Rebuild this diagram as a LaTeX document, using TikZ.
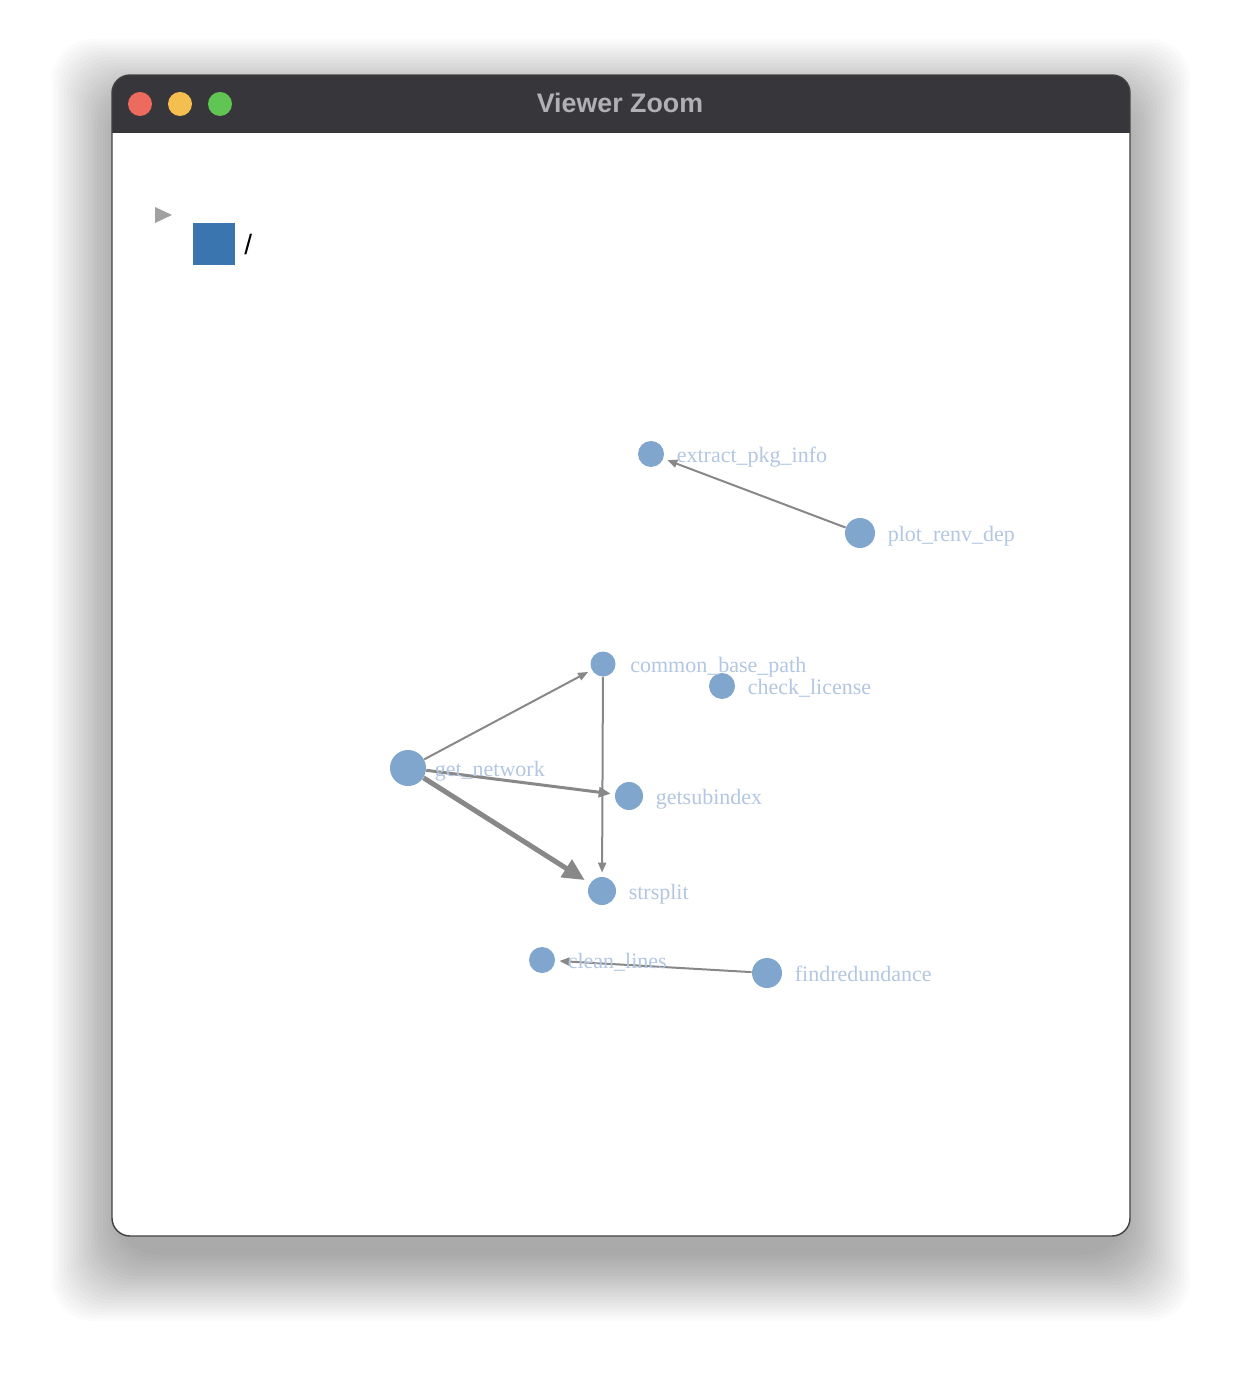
\documentclass[tikz,border=0pt]{standalone}
\usepackage{fontspec}
\setmainfont{Liberation Serif}
\newfontfamily\winfont{Liberation Sans}
\usepackage{tikz}
\usetikzlibrary{positioning}
\usetikzlibrary{arrows.meta}

\definecolor{nodeblue}{HTML}{80A6CD}
\definecolor{lblblue}{HTML}{B3C7E2}
\definecolor{edgegray}{HTML}{888888}
\definecolor{barcol}{HTML}{37363B}
\definecolor{bartext}{HTML}{B1B0B5}
\definecolor{legblue}{HTML}{3A75B0}
\definecolor{closered}{HTML}{ED6A5E}
\definecolor{minyellow}{HTML}{F5BF4F}
\definecolor{maxgreen}{HTML}{61C554}

\begin{document}
\begin{tikzpicture}[
    x=0.5pt, y=-0.5pt,
    node distance=5pt,
    fn/.style={circle,fill=nodeblue,inner sep=0pt,minimum size=#1},
    fn/.default=13pt,
    lbl/.style={text=lblblue,inner sep=0pt,font=\fontsize{11}{13}\selectfont,
        text height=0.7em,text depth=0.25em,yshift=-2pt},
    dep/.style={draw=edgegray,line width=1pt,shorten >=2pt,
        -{Triangle[length=5pt,width=4pt]}},
    light/.style={circle,inner sep=0pt,minimum size=12pt}
    ]

    % page and window shadow
    \useasboundingbox (0,0) rectangle (1242,1384);
    \fill[white] (0,0) rectangle (1242,1384);
    \foreach \s in {0,3,...,66}
        \fill[black,opacity=0.014,rounded corners=20pt]
            (118-\s,105-\s) rectangle (1124+\s,1255+\s);

    % window
    \fill[white,rounded corners=9pt] (112,75) rectangle (1130,1236);
    \begin{scope}
        \clip[rounded corners=9pt] (112,75) rectangle (1130,1236);
        \fill[barcol] (112,75) rectangle (1130,132);
    \end{scope}
    \draw[black!80,line width=0.4pt] (112,132) -- (1130,132);
    \draw[black!75,line width=0.7pt,rounded corners=9pt] (112,75) rectangle (1130,1236);

    \node[light,fill=closered] (close) at (140,104) {};
    \node[light,fill=minyellow] (minimize) at (180,104) {};
    \node[light,fill=maxgreen] (maximize) at (220,104) {};
    \node[text=bartext,font=\winfont\bfseries\fontsize{13.4}{16}\selectfont] (title) at (620,103) {Viewer Zoom};

    % legend
    \fill[black!37] (155,207) -- (155,223) -- (172,215) -- cycle;
    \node[fill=legblue,inner sep=0pt,minimum size=21pt] (swatch) at (214,244) {};
    \node[font=\winfont\fontsize{14}{16}\selectfont,right=1pt of swatch] (grp) {/};

    % function nodes
    \node[fn] (epi) at (651,454) {};
    \node[fn=15pt] (prd) at (860,533) {};
    \node[fn=12.5pt] (cbp) at (603,664) {};
    \node[fn] (chk) at (722,686) {};
    \node[fn=18pt] (gnw) at (408,768) {};
    \node[fn=14pt] (gsi) at (629,796) {};
    \node[fn=14pt] (sts) at (602,891) {};
    \node[fn] (cln) at (542,960) {};
    \node[fn=15pt] (frd) at (767,973) {};

    % calls
    \draw[dep] (prd) -- (epi);
    \draw[dep] (gnw) -- (cbp);
    \draw[dep,line width=1.5pt,-{Triangle[length=6pt,width=5pt]}] (gnw) -- (gsi);
    \draw[dep,line width=2.5pt,shorten >=3pt,-{Triangle[length=11pt,width=10pt]}] (gnw) -- (sts);
    \draw[dep] (cbp) -- (sts);
    \draw[dep] (frd) -- (cln);

    % labels
    \node[lbl,right=6pt of epi] (epi-l) {extract\_pkg\_info};
    \node[lbl,right=6pt of prd] (prd-l) {plot\_renv\_dep};
    \node[lbl,right=7pt of cbp] (cbp-l) {common\_base\_path};
    \node[lbl,right=6pt of chk] (chk-l) {check\_license};
    \node[lbl,right=4pt of gnw] (gnw-l) {get\_network};
    \node[lbl,right=6pt of gsi] (gsi-l) {getsubindex};
    \node[lbl,right=6pt of sts] (sts-l) {strsplit};
    \node[lbl,right=6pt of cln] (cln-l) {clean\_lines};
    \node[lbl,right=6pt of frd] (frd-l) {findredundance};

\end{tikzpicture}
\end{document}
